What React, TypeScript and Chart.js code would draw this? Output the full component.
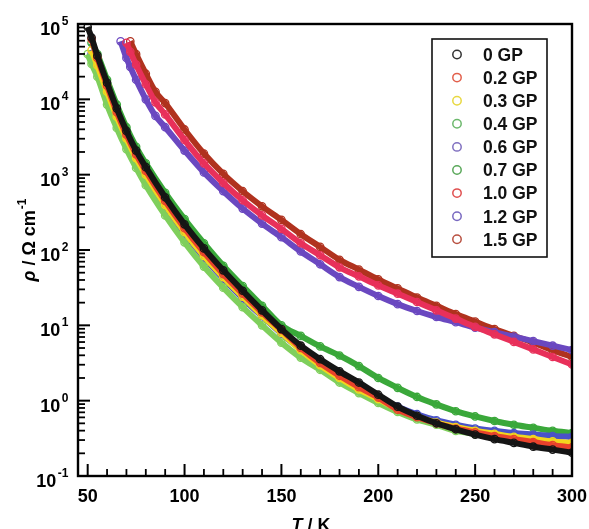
import React, { useEffect, useRef } from "react";
import { Chart, registerables } from "chart.js";

Chart.register(...registerables);

// Temperatures (K)
const TEMPS_LOW = [50, 52, 55, 60, 65, 70, 75, 80, 90, 100, 110, 120, 130, 140, 150, 160, 170, 180, 190, 200, 210, 220, 230, 240, 250, 260, 270, 280, 290, 300];
const TEMPS_HIGH = [67, 70, 72, 75, 80, 85, 90, 100, 110, 120, 130, 140, 150, 160, 170, 180, 190, 200, 210, 220, 230, 240, 250, 260, 270, 280, 290, 300];

// Resistivity (Ohm cm)
const RHO_0GP = [91200, 66070, 38020, 16600, 7586, 3802, 2089, 1259, 501, 219, 105, 53.7, 28.8, 15.8, 8.91, 5.37, 3.55, 2.45, 1.74, 1.2, 0.832, 0.631, 0.501, 0.417, 0.355, 0.309, 0.275, 0.245, 0.224, 0.204];
const RHO_02GP = [null, 63100, 35480, 15140, 6761, 3388, 1862, 1122, 447, 195, 93.3, 47.9, 26.3, 14.8, 8.71, 5.01, 3.16, 2.14, 1.51, 1.1, 0.759, 0.603, 0.501, 0.427, 0.38, 0.339, 0.309, 0.282, 0.257, 0.24];
const RHO_03GP = [null, 44670, 28180, 12590, 5888, 3020, 1660, 1000, 398, 174, 83.2, 43.7, 24.0, 13.5, 7.94, 4.68, 2.95, 2.0, 1.41, 1.05, 0.776, 0.617, 0.513, 0.447, 0.398, 0.363, 0.331, 0.309, 0.288, 0.275];
const RHO_04GP = [39810, 29510, 19950, 8511, 4169, 2188, 1230, 724, 288, 126, 60.3, 31.6, 17.4, 10.0, 5.89, 3.72, 2.57, 1.74, 1.26, 0.933, 0.708, 0.562, 0.479, 0.398, 0.363, 0.331, 0.309, 0.295, 0.282, 0.269];
const RHO_06GP = [null, 39810, 23990, 10960, 5248, 2754, 1549, 933, 380, 166, 79.4, 41.7, 22.9, 13.2, 7.76, 4.79, 3.09, 2.09, 1.48, 1.1, 0.832, 0.661, 0.55, 0.479, 0.427, 0.398, 0.372, 0.355, 0.339, 0.331];
const RHO_07GP = [null, 56230, 39810, 18200, 8511, 4266, 2344, 1413, 575, 257, 123, 61.7, 33.1, 18.2, 10.0, 7.24, 5.25, 3.98, 2.88, 2.0, 1.48, 1.12, 0.891, 0.724, 0.617, 0.537, 0.479, 0.437, 0.398, 0.372];
const RHO_10GP = [null, 56230, 42660, 28840, 15850, 9120, 6310, 2884, 1413, 776, 457, 288, 191, 123, 85.1, 58.9, 44.7, 33.9, 26.3, 20.4, 15.8, 12.3, 9.55, 7.59, 6.03, 4.79, 3.8, 3.02];
const RHO_12GP = [58880, 35480, 26920, 18200, 10000, 6026, 4266, 2089, 1072, 603, 355, 224, 148, 95.5, 64.6, 43.7, 32.4, 24.5, 19.1, 15.5, 12.9, 11.0, 9.33, 8.13, 7.08, 6.17, 5.37, 4.68];
const RHO_15GP = [null, null, 58880, 39810, 21880, 12590, 8913, 3981, 1905, 1023, 603, 380, 251, 162, 110, 74.1, 55.0, 40.7, 30.9, 23.4, 18.2, 14.1, 11.2, 8.91, 7.24, 5.89, 4.68, 3.8];

const SERIES_LABELS = ["0 GP", "0.2 GP", "0.3 GP", "0.4 GP", "0.6 GP", "0.7 GP", "1.0 GP", "1.2 GP", "1.5 GP"];
const SERIES_COLORS = ["#151515", "#e8422c", "#f2d61e", "#7fcf5c", "#4a52c8", "#3aa83a", "#e8305a", "#6a48c0", "#b0321e"];
const LEGEND_COLORS = ["#333333", "#e2604c", "#e8d840", "#6cb86c", "#8070c0", "#5aa85a", "#e05050", "#7868c0", "#b85040"];

// Axis ticks
const X_MAJOR_TICKS = [50, 100, 150, 200, 250, 300];
const X_MINOR_TICKS = [60, 70, 80, 90, 110, 120, 130, 140, 160, 170, 180, 190, 210, 220, 230, 240, 260, 270, 280, 290];
const Y_DECADES = [-1, 0, 1, 2, 3, 4, 5];
const Y_MINOR_MULT = [2, 3, 4, 5, 6, 7, 8, 9];

const FONT = '"Liberation Sans", Arial, Helvetica, sans-serif';

function pts(temps: number[], vals: (number | null)[]) {
  const out: { x: number; y: number }[] = [];
  temps.forEach((t, i) => {
    const v = vals[i];
    if (v !== null && v !== undefined) out.push({ x: t, y: v });
  });
  return out;
}

const overlayPlugin = {
  id: "overlay",
  afterDatasetsDraw(chart: any) {
    const { ctx, chartArea: a, scales } = chart;
    const xs = scales.x;
    const ys = scales.y;
    ctx.save();
    ctx.strokeStyle = "#000";
    ctx.fillStyle = "#000";
    ctx.lineCap = "butt";

    const seg = (x1: number, y1: number, x2: number, y2: number) => {
      ctx.beginPath();
      ctx.moveTo(x1, y1);
      ctx.lineTo(x2, y2);
      ctx.stroke();
    };

    // x ticks (inward)
    ctx.lineWidth = 2;
    X_MAJOR_TICKS.forEach((t) => {
      const px = xs.getPixelForValue(t);
      seg(px, a.bottom, px, a.bottom - 12);
    });
    ctx.lineWidth = 1.8;
    X_MINOR_TICKS.forEach((t) => {
      const px = xs.getPixelForValue(t);
      seg(px, a.bottom, px, a.bottom - 7);
    });
    // y ticks (inward)
    ctx.lineWidth = 2;
    Y_DECADES.forEach((k) => {
      const py = ys.getPixelForValue(Math.pow(10, k));
      seg(a.left, py, a.left + 12, py);
    });
    ctx.lineWidth = 1.8;
    Y_DECADES.slice(0, -1).forEach((k) => {
      Y_MINOR_MULT.forEach((m) => {
        const py = ys.getPixelForValue(m * Math.pow(10, k));
        seg(a.left, py, a.left + 7, py);
      });
    });

    // frame
    ctx.lineWidth = 2.4;
    ctx.strokeRect(a.left, a.top, a.right - a.left, a.bottom - a.top);

    // x tick labels
    ctx.font = `bold 18px ${FONT}`;
    ctx.textAlign = "center";
    ctx.textBaseline = "alphabetic";
    X_MAJOR_TICKS.forEach((t) => {
      ctx.fillText(String(t), xs.getPixelForValue(t), a.bottom + 25.5);
    });

    // y tick labels 10^k
    Y_DECADES.forEach((k) => {
      const py = ys.getPixelForValue(Math.pow(10, k));
      const exp = k < 0 ? "-" + String(-k) : String(k);
      ctx.font = `bold 12px ${FONT}`;
      ctx.textAlign = "right";
      const ew = ctx.measureText(exp).width;
      const right = a.left - 9.5;
      ctx.fillText(exp, right, py + 1);
      ctx.font = `bold 18px ${FONT}`;
      ctx.fillText("10", right - ew - 1.5, py + 11);
    });

    // x title: T / K
    {
      ctx.textAlign = "left";
      ctx.font = `italic bold 18px ${FONT}`;
      const w1 = ctx.measureText("T").width;
      ctx.font = `bold 18px ${FONT}`;
      const w2 = ctx.measureText(" / K").width;
      const cx = 311;
      const x0 = cx - (w1 + w2) / 2;
      const by = a.bottom + 55;
      ctx.font = `italic bold 18px ${FONT}`;
      ctx.fillText("T", x0, by);
      ctx.font = `bold 18px ${FONT}`;
      ctx.fillText(" / K", x0 + w1, by);
    }

    // y title: rho / Omega cm^-1
    {
      ctx.save();
      ctx.translate(35, 240);
      ctx.rotate(-Math.PI / 2);
      ctx.textAlign = "left";
      ctx.font = `italic bold 18px ${FONT}`;
      const w1 = ctx.measureText("\u03C1").width;
      ctx.font = `bold 18px ${FONT}`;
      const w2 = ctx.measureText(" / \u03A9 cm").width;
      ctx.font = `bold 12px ${FONT}`;
      const w3 = ctx.measureText("-1").width;
      const x0 = -(w1 + w2 + w3 + 1) / 2;
      ctx.font = `italic bold 18px ${FONT}`;
      ctx.fillText("\u03C1", x0, 0);
      ctx.font = `bold 18px ${FONT}`;
      ctx.fillText(" / \u03A9 cm", x0 + w1, 0);
      ctx.font = `bold 12px ${FONT}`;
      ctx.fillText("-1", x0 + w1 + w2 + 1, -9);
      ctx.restore();
    }

    // legend box
    {
      const lx = a.right - 140;
      const ly = a.top + 15;
      const lw = 115;
      const lh = 218;
      ctx.fillStyle = "#fff";
      ctx.fillRect(lx, ly, lw, lh);
      ctx.strokeStyle = "#111";
      ctx.lineWidth = 1.6;
      ctx.strokeRect(lx, ly, lw, lh);
      ctx.font = `bold 17.5px ${FONT}`;
      ctx.textAlign = "left";
      SERIES_LABELS.forEach((lab, i) => {
        const cy = ly + 15.5 + i * 23.1;
        ctx.beginPath();
        ctx.arc(lx + 25, cy, 4.2, 0, Math.PI * 2);
        ctx.strokeStyle = LEGEND_COLORS[i];
        ctx.lineWidth = 1.5;
        ctx.stroke();
        ctx.fillStyle = "#111";
        ctx.fillText(lab, lx + 51, cy + 6.3);
      });
    }
    ctx.restore();
  },
};

export default function App() {
  const ref = useRef<HTMLCanvasElement | null>(null);
  useEffect(() => {
    if (!ref.current) return;
    const groups: [number[], (number | null)[]][] = [
      [TEMPS_LOW, RHO_0GP],
      [TEMPS_LOW, RHO_02GP],
      [TEMPS_LOW, RHO_03GP],
      [TEMPS_LOW, RHO_04GP],
      [TEMPS_LOW, RHO_06GP],
      [TEMPS_LOW, RHO_07GP],
      [TEMPS_HIGH, RHO_10GP],
      [TEMPS_HIGH, RHO_12GP],
      [TEMPS_HIGH, RHO_15GP],
    ];
    const datasets = groups.map(([t, v], i) => ({
      label: SERIES_LABELS[i],
      data: pts(t, v),
      borderColor: SERIES_COLORS[i],
      backgroundColor: "rgba(0,0,0,0)",
      pointBorderColor: SERIES_COLORS[i],
      pointBackgroundColor: "rgba(255,255,255,0)",
      pointRadius: 3.7,
      pointBorderWidth: 1.3,
      pointStyle: "circle",
      borderWidth: 6,
      cubicInterpolationMode: "monotone" as const,
      fill: false,
    }));
    const chart = new Chart(ref.current, {
      type: "line",
      data: { datasets },
      plugins: [overlayPlugin],
      options: {
        animation: false,
        responsive: false,
        maintainAspectRatio: false,
        layout: { padding: { top: 24, right: 17, left: 0, bottom: 0 } },
        plugins: { legend: { display: false }, tooltip: { enabled: false } },
        scales: {
          x: {
            type: "linear",
            min: 45,
            max: 300,
            grid: { display: false },
            border: { display: false },
            ticks: { display: false },
            afterFit: (s: any) => {
              s.height = 53;
            },
          },
          y: {
            type: "logarithmic",
            min: 0.1,
            max: 100000,
            grid: { display: false },
            border: { display: false },
            ticks: { display: false },
            afterFit: (s: any) => {
              s.width = 78;
            },
          },
        },
      },
    });
    return () => chart.destroy();
  }, []);
  return (
    <div style={{ position: "absolute", left: 0, top: 0, width: 589, height: 529, background: "#fff" }}>
      <canvas ref={ref} width={589} height={529} style={{ display: "block", width: 589, height: 529 }} />
    </div>
  );
}
